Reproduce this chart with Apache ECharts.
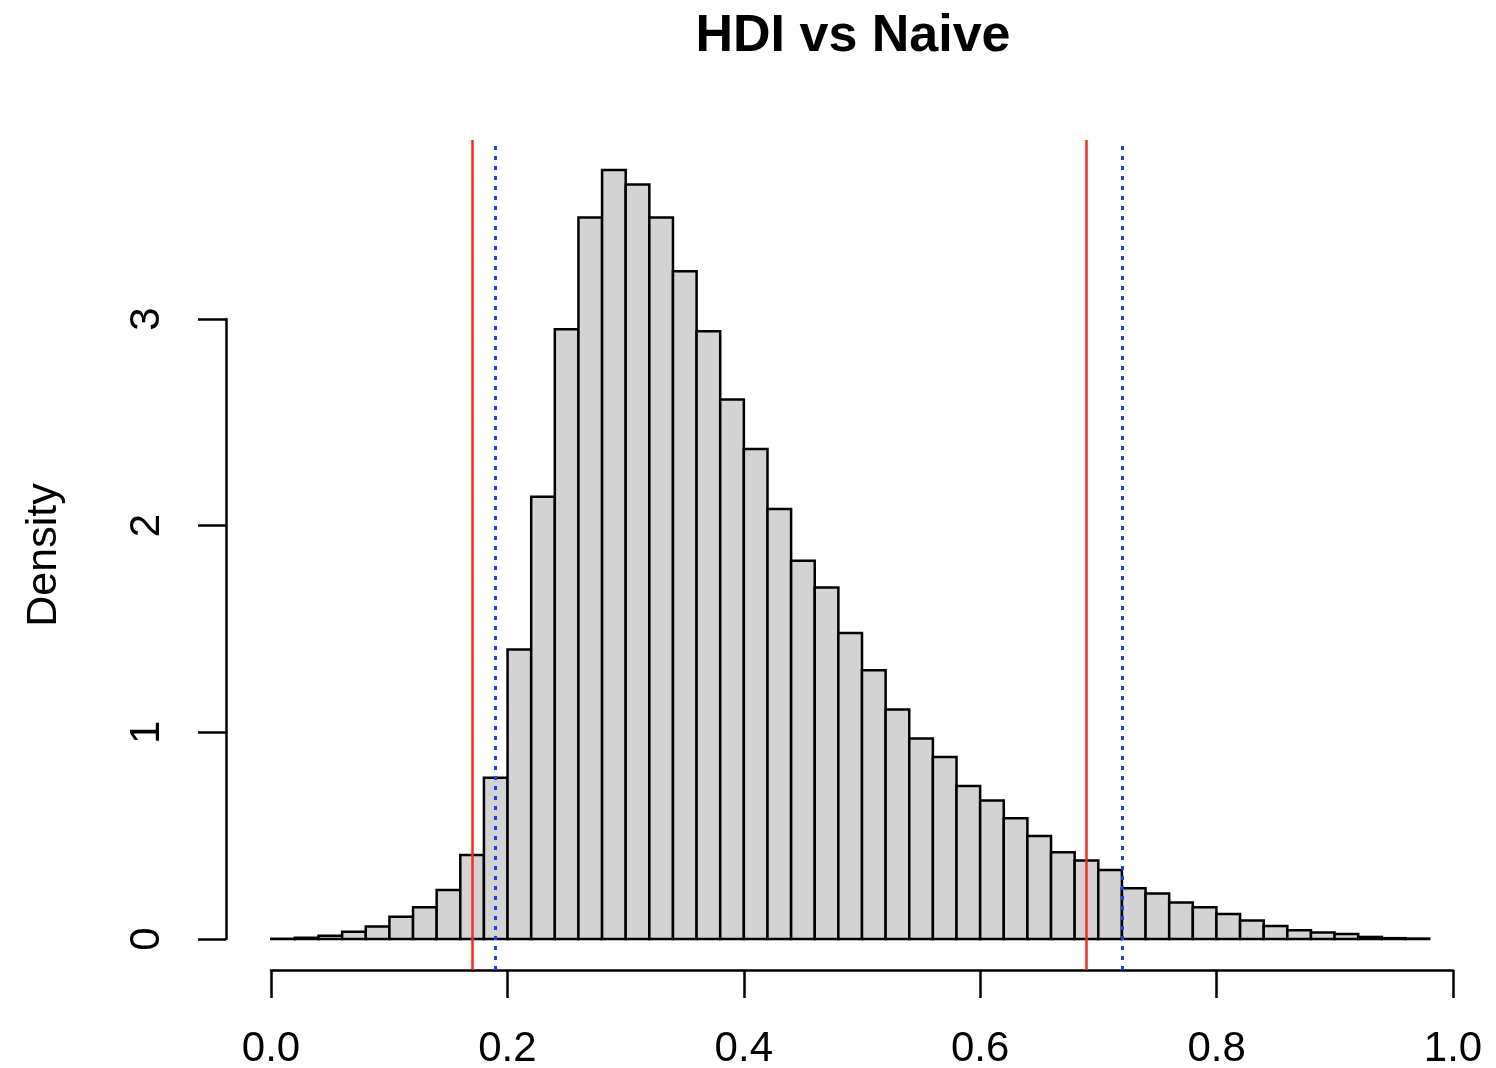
<!DOCTYPE html>
<html>
<head>
<meta charset="utf-8">
<script src="https://cdn.jsdelivr.net/npm/echarts@6/dist/echarts.min.js"></script>
<style>html,body{margin:0;padding:0;background:#fff}#c{width:1496px;height:1068px}</style>
</head>
<body>
<div id="c"></div>
<script>
const titleText = 'HDI vs Naive';
const yName = 'Density';
const breaks = [0.00,0.02,0.04,0.06,0.08,0.10,0.12,0.14,0.16,0.18,0.20,0.22,0.24,0.26,0.28,0.30,0.32,0.34,0.36,0.38,0.40,0.42,0.44,0.46,0.48,0.50,0.52,0.54,0.56,0.58,0.60,0.62,0.64,0.66,0.68,0.70,0.72,0.74,0.76,0.78,0.80,0.82,0.84,0.86,0.88,0.90,0.92,0.94,0.96,0.98];
const density = [0.001,0.006,0.016,0.035,0.06,0.108,0.153,0.237,0.406,0.78,1.40,2.14,2.95,3.49,3.72,3.65,3.49,3.23,2.94,2.61,2.37,2.08,1.83,1.70,1.48,1.30,1.11,0.97,0.88,0.74,0.67,0.584,0.498,0.42,0.38,0.334,0.245,0.22,0.176,0.153,0.121,0.09,0.063,0.042,0.032,0.024,0.01,0.004,0.002];
const hdiBounds = [0.1692, 0.6904];
const naiveBounds = [0.187, 0.7174];
const xTicks = [0, 0.2, 0.4, 0.6, 0.8, 1.0];
const yTicks = [0, 1, 2, 3];

const FONT = '"Liberation Sans", Arial, Helvetica, sans-serif';
const histData = density.map((d, i) => [breaks[i], breaks[i + 1], d]);

const chart = echarts.init(document.getElementById('c'), null, {renderer: 'canvas'});
chart.setOption({
  animation: false,
  backgroundColor: '#ffffff',
  title: {
    text: titleText,
    left: 848,
    top: 6,
    textAlign: 'center',
    textStyle: {fontFamily: FONT, fontWeight: 'bold', fontSize: 52, color: '#000'}
  },
  grid: [
    {left: 224, top: 140, width: 1276, height: 830, containLabel: false, outerBoundsMode: 'none'},
    {left: 271, top: 140, width: 1182, height: 830, containLabel: false, outerBoundsMode: 'none'},
    {left: 226, top: 319, width: 100, height: 620, containLabel: false, outerBoundsMode: 'none'}
  ],
  xAxis: [
    {gridIndex: 0, type: 'value', min: -0.04, max: 1.04, show: false},
    {gridIndex: 1, type: 'value', min: xTicks[0], max: xTicks[xTicks.length - 1], interval: 0.2,
     position: 'bottom',
     axisLine: {show: true, onZero: false, lineStyle: {color: '#000', width: 2.5}},
     axisTick: {show: true, inside: false, length: 28, lineStyle: {color: '#000', width: 2.5}},
     axisLabel: {show: true, margin: 58, fontFamily: FONT, fontSize: 42, color: '#000',
       formatter: v => v.toFixed(1)},
     splitLine: {show: false}},
    {gridIndex: 2, type: 'value', show: false}
  ],
  yAxis: [
    {gridIndex: 0, type: 'value', min: -0.15, max: 3.8655,
     axisLine: {show: false}, axisTick: {show: false}, axisLabel: {show: false}, splitLine: {show: false},
     name: yName, nameLocation: 'middle', nameGap: 158,
     nameTextStyle: {fontFamily: FONT, fontSize: 43, color: '#000'}},
    {gridIndex: 1, type: 'value', show: false},
    {gridIndex: 2, type: 'value', min: yTicks[0], max: yTicks[yTicks.length - 1], interval: 1,
     position: 'left',
     axisLine: {show: true, onZero: false, lineStyle: {color: '#000', width: 2.5}},
     axisTick: {show: true, inside: false, length: 28, lineStyle: {color: '#000', width: 2.5}},
     axisLabel: {show: true, rotate: 90, margin: 58, align: 'center', verticalAlign: 'bottom',
       fontFamily: FONT, fontSize: 42, color: '#000'},
     splitLine: {show: false}}
  ],
  series: [
    {
      type: 'custom',
      xAxisIndex: 0, yAxisIndex: 0,
      data: histData,
      encode: {x: [0, 1], y: 2},
      renderItem: function (params, api) {
        const p0 = api.coord([api.value(0), api.value(2)]);
        const p1 = api.coord([api.value(1), 0]);
        return {
          type: 'rect',
          shape: {x: p0[0], y: p0[1], width: p1[0] - p0[0], height: p1[1] - p0[1]},
          style: {fill: '#D3D3D3', stroke: '#000', lineWidth: 2.5}
        };
      },
      z: 2
    },
    {
      type: 'line', xAxisIndex: 0, yAxisIndex: 0, data: [], z: 5,
      markLine: {
        silent: true, symbol: ['none', 'none'], label: {show: false},
        data: [
          {xAxis: hdiBounds[0], lineStyle: {color: '#FF2A1A', width: 2.5, type: 'solid'}},
          {xAxis: hdiBounds[1], lineStyle: {color: '#FF2A1A', width: 2.5, type: 'solid'}},
          {xAxis: naiveBounds[0], lineStyle: {color: '#1E3CFF', width: 3, type: [4, 6]}},
          {xAxis: naiveBounds[1], lineStyle: {color: '#1E3CFF', width: 3, type: [4, 6]}}
        ]
      }
    }
  ]
});
</script>
</body>
</html>
